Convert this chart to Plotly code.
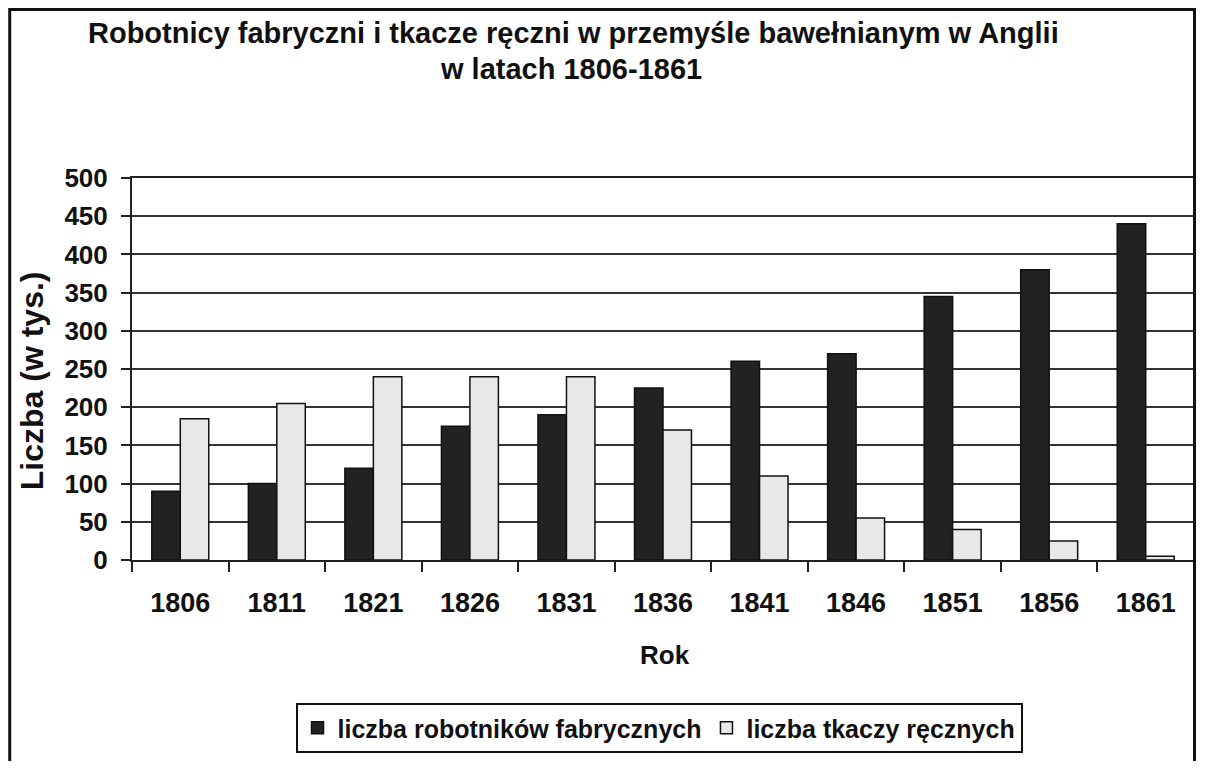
import plotly.graph_objects as go

years = ["1806", "1811", "1821", "1826", "1831", "1836", "1841", "1846", "1851", "1856", "1861"]
robotnicy = [90, 100, 120, 175, 190, 225, 260, 270, 345, 380, 440]
tkacze = [185, 205, 240, 240, 240, 170, 110, 55, 40, 25, 5]
series_names = ["liczba robotników fabrycznych", "liczba tkaczy ręcznych"]
title_lines = ["Robotnicy fabryczni i tkacze ręczni w przemyśle bawełnianym w Anglii", "w latach 1806-1861"]
y_ticks = [0, 50, 100, 150, 200, 250, 300, 350, 400, 450, 500]

FONT = "Liberation Sans, Arial, sans-serif"
OFF = 8  # default page body margin
W, H = 1206 - 2 * OFF, 769 - 2 * OFF
# plot area in screen pixels
PX0, PX1, PY0, PY1 = 132, 1196, 178, 560
L = PX0 - OFF
R = W - (PX1 - OFF)
T = PY0 - OFF
B = H - (PY1 - OFF)
pw, ph = PX1 - PX0, PY1 - PY0

def px_x(x):
    return (x - PX0) / pw

def px_y(y):
    return (PY1 - y) / ph

fig = go.Figure()
fig.add_trace(go.Bar(x=years, y=robotnicy, name=series_names[0],
                     marker=dict(color="#222222", line=dict(color="#111111", width=1.5))))
fig.add_trace(go.Bar(x=years, y=tkacze, name=series_names[1],
                     marker=dict(color="#e8e8e8", line=dict(color="#111111", width=1.5))))

fig.update_layout(
    width=W, height=H,
    margin=dict(l=L, r=R, t=T, b=B),
    paper_bgcolor="white", plot_bgcolor="white",
    barmode="group", bargap=0.41, bargroupgap=0,
    font=dict(family=FONT, color="#111111"),
    showlegend=True,
    legend=dict(orientation="h", x=px_x(660), xanchor="center", y=px_y(703), yanchor="top",
                font=dict(family=FONT, size=25, color="#111111", weight="bold"),
                bordercolor="#111111", borderwidth=2, bgcolor="white",
                itemwidth=30, traceorder="normal"),
)
fig.update_xaxes(type="category", showline=True, linecolor="#222222", linewidth=2, mirror=True,
                 ticks="outside", tickson="boundaries", ticklen=10, tickwidth=2, tickcolor="#222222",
                 tickfont=dict(family=FONT, size=27, color="#111111", weight="bold"), ticklabelstandoff=18,
                 showgrid=False)
fig.update_yaxes(range=[0, 500], tickvals=y_ticks, showline=True, linecolor="#222222", linewidth=2,
                 mirror=True, ticks="outside", ticklen=9, tickwidth=2, tickcolor="#222222",
                 tickfont=dict(family=FONT, size=26, color="#111111", weight="bold"), ticklabelstandoff=8,
                 showgrid=True, gridcolor="#333333", gridwidth=2, zeroline=False)

ann = [
    dict(text="<b>%s</b>" % title_lines[0], x=px_x(574), y=px_y(33), font=dict(size=29)),
    dict(text="<b>%s</b>" % title_lines[1], x=px_x(572), y=px_y(69), font=dict(size=29)),
    dict(text="<b>Rok</b>", x=px_x(666), y=px_y(655), font=dict(size=26)),
    dict(text="<b>Liczba (w tys.)</b>", x=px_x(32), y=px_y(381), font=dict(size=32), textangle=-90),
]
for a in ann:
    a.update(xref="paper", yref="paper", showarrow=False, xanchor="center", yanchor="middle")
    a["font"].update(family=FONT, color="#111111")
fig.update_layout(annotations=ann)

# outer frame (left, top, right sides) drawn just inside the figure edges
fx0, fx1, fy0, fy1 = OFF + 1.5, OFF + W - 1.5, OFF + 1.5, OFF + H + 5
frame_path = "M %f,%f L %f,%f L %f,%f L %f,%f" % (
    px_x(fx0), px_y(fy1), px_x(fx0), px_y(fy0), px_x(fx1), px_y(fy0), px_x(fx1), px_y(fy1))
fig.add_shape(type="path", xref="paper", yref="paper", path=frame_path,
              line=dict(color="#111111", width=3), layer="above")

fig.write_html("out.html")
